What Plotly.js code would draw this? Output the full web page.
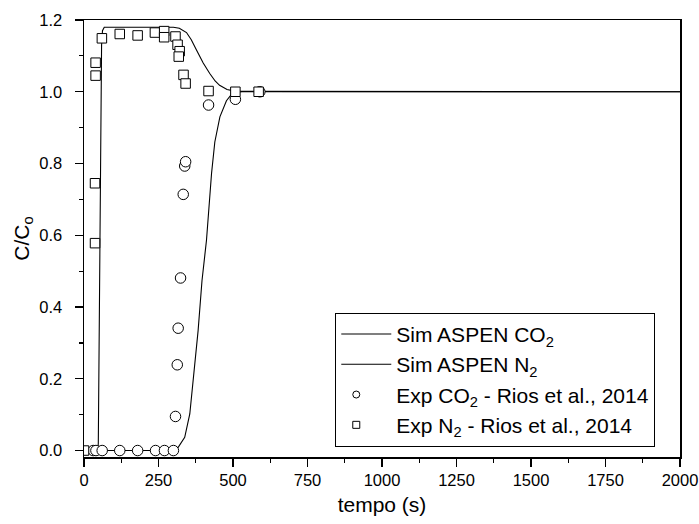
<!DOCTYPE html>
<html>
<head>
<meta charset="utf-8">
<script src="https://cdn.plot.ly/plotly-3.0.1.min.js"></script>
<style>html,body{margin:0;padding:0;background:#fff;}#chart{width:699px;height:524px;}</style>
</head>
<body>
<div id="chart"></div>
<script>
// Simulation curves (ASPEN)
var simCO2_t = [0, 300, 316, 338, 355, 366, 383, 396, 411, 428, 439, 456, 478, 492, 510, 530, 2000];
var simCO2_c = [0, 0, 0.009, 0.037, 0.102, 0.195, 0.335, 0.474, 0.586, 0.772, 0.86, 0.93, 0.975, 0.99, 0.998, 1.0, 1.0];
var simN2_t = [0, 46, 48, 53, 57, 59, 62, 68, 300, 320, 344, 360, 377, 400, 422, 440, 455, 480, 510, 2000];
var simN2_c = [0, 0, 0.02, 0.5, 1.0, 1.13, 1.17, 1.18, 1.18, 1.177, 1.165, 1.145, 1.117, 1.08, 1.051, 1.03, 1.018, 1.006, 1.001, 1.0];
// Experimental data (Rios et al., 2014)
var expCO2_t = [31, 40, 61, 120, 180, 240, 270, 300, 307, 313, 316, 324, 333, 338, 341, 418, 508, 590];
var expCO2_c = [0, 0, 0, 0, 0, 0, 0, 0, 0.095, 0.239, 0.341, 0.481, 0.714, 0.793, 0.805, 0.963, 0.979, 1.0];
var expN2_t = [0, 37, 37, 39, 39, 60, 120, 180, 238, 269, 269, 307, 314, 321, 318, 334, 341, 418, 508, 586];
var expN2_c = [0, 0.578, 0.745, 1.045, 1.081, 1.149, 1.161, 1.157, 1.165, 1.169, 1.152, 1.154, 1.131, 1.113, 1.098, 1.047, 1.023, 1.002, 1.0, 1.0];

var xTicks = [0, 250, 500, 750, 1000, 1250, 1500, 1750, 2000];
var yTicks = [0.0, 0.2, 0.4, 0.6, 0.8, 1.0, 1.2];
var names = ['Sim ASPEN CO<sub>2</sub>', 'Sim ASPEN N<sub>2</sub>',
             'Exp CO<sub>2</sub> - Rios et al., 2014', 'Exp N<sub>2</sub> - Rios et al., 2014'];

var font = "Liberation Sans, Arial, sans-serif";
var lineStyle = {color: '#000', width: 1.1};

var traces = [
  {x: simCO2_t, y: simCO2_c, mode: 'lines', name: names[0], line: lineStyle, showlegend: false},
  {x: simN2_t, y: simN2_c, mode: 'lines', name: names[1], line: lineStyle, showlegend: false},
  {x: expCO2_t, y: expCO2_c, mode: 'markers', name: names[2], showlegend: false,
   marker: {symbol: 'circle', size: 10.5, color: '#fff', line: {color: '#000', width: 1}}},
  {x: expN2_t, y: expN2_c, mode: 'markers', name: names[3], showlegend: false,
   marker: {symbol: 'square', size: 9.5, color: '#fff', line: {color: '#000', width: 1}}},
  // legend entries (no data, smaller legend symbols)
  {x: [null], y: [null], mode: 'lines', name: names[0], line: lineStyle},
  {x: [null], y: [null], mode: 'lines', name: names[1], line: lineStyle},
  {x: [null], y: [null], mode: 'markers', name: names[2], marker: {symbol: 'circle', size: 7, color: '#fff', line: {color: '#000', width: 1}}},
  {x: [null], y: [null], mode: 'markers', name: names[3], marker: {symbol: 'square', size: 7, color: '#fff', line: {color: '#000', width: 1}}}
];

var layout = {
  width: 699, height: 524,
  margin: {l: 83.5, r: 19, t: 19.5, b: 67},
  paper_bgcolor: '#fff', plot_bgcolor: '#fff',
  font: {family: font, size: 16.5, color: '#000'},
  showlegend: true,
  legend: {x: 0.4216, y: 0.33, xanchor: 'left', yanchor: 'top', bordercolor: '#000', borderwidth: 1,
           bgcolor: '#fff', font: {family: font, size: 21, color: '#000'}, tracegroupgap: 0, itemwidth: 50},
  xaxis: {range: [0, 2000], tickvals: xTicks, ticktext: xTicks.map(String), ticks: 'outside', ticklen: 8, tickwidth: 1.2,
          tickcolor: '#000', showline: true, linecolor: '#000', linewidth: 1.5, mirror: true, showgrid: false, zeroline: false,
          minor: {dtick: 125, tick0: 0, ticks: 'outside', ticklen: 4, tickcolor: '#000', showgrid: false},
          tickfont: {size: 16.5}, title: {text: 'tempo (s)', font: {size: 21}, standoff: 9}},
  yaxis: {range: [-0.018, 1.2], tickvals: yTicks, ticktext: yTicks.map(function(v){return v.toFixed(1);}), ticks: 'outside', ticklen: 8, tickwidth: 1.2,
          tickcolor: '#000', showline: true, linecolor: '#000', linewidth: 1.5, mirror: true, showgrid: false, zeroline: false,
          ticklabelstandoff: 9,
          minor: {dtick: 0.1, tick0: 0, ticks: 'outside', ticklen: 4, tickcolor: '#000', showgrid: false},
          tickfont: {size: 16.5}, title: {text: 'C/C<sub>o</sub>', font: {size: 21}, standoff: 4}}
};

Plotly.newPlot('chart', traces, layout, {staticPlot: true, displayModeBar: false}).then(function (gd) {
  // longer legend line samples and left-aligned legend symbols, as in the original figure
  gd.querySelectorAll('.legend path.legendlines').forEach(function (p) { p.setAttribute('d', 'M6,0h47'); });
  gd.querySelectorAll('.legend .legendpoints path.scatterpts').forEach(function (p) { p.setAttribute('transform', 'translate(20,0)'); });
});
</script>
</body>
</html>
